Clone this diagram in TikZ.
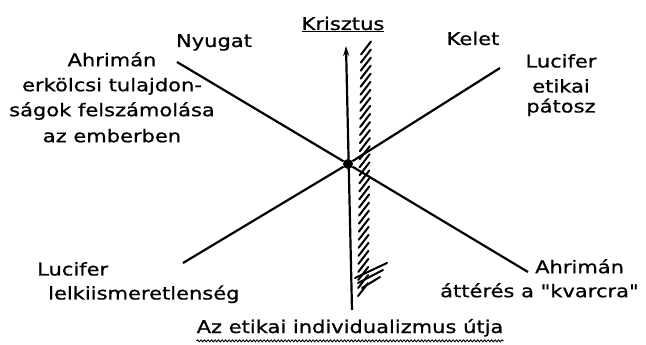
\documentclass[tikz,border=0pt]{standalone}
\usepackage{fontspec}
\setmainfont[FakeStretch=1.2,FakeBold=0.8,Ligatures=TeXOff]{DejaVu Sans}
\usetikzlibrary{arrows.meta,calc,decorations.pathmorphing}

\begin{document}
\begin{tikzpicture}[
  x=1pt,y=-1pt,
  font=\fontsize{17.5}{24}\selectfont,
  >={Stealth[length=10pt,width=6pt]},
  lbl/.style={inner sep=0pt,anchor=base},
  block/.style={inner sep=0pt,anchor=north,align=center},
  axis/.style={line width=2.2pt},
  hatch/.style={line width=2pt,line cap=round},
  wavy/.style={decorate,decoration={snake,amplitude=1pt,segment length=3.5pt},line width=0.9pt},
]
\useasboundingbox (0,0) rectangle (646,345);

% end points of the two crossing lines and of the arrow
\coordinate (ahrFent) at (177,62);
\coordinate (ahrLent) at (528,272);
\coordinate (lucLent) at (183,263);
\coordinate (lucFent) at (500,68);
\coordinate (utAlul) at (352,310);
\coordinate (utFelul) at (346,46);
\coordinate (savFent) at (366,48);
\coordinate (savLent) at (363,292);

\node[circle,fill,inner sep=0pt,minimum size=10pt] (kozep) at (348,164) {};

\draw[axis] (ahrFent) -- (kozep) -- (ahrLent);
\draw[axis] (lucLent) -- (kozep) -- (lucFent);
\draw[axis,->] (utAlul) -- (utFelul);

% hatched strip
\foreach \t in {0,0.033,...,1.0}
  \draw[hatch] ($(savFent)!\t!(savLent)+(-5,6.5)$) -- ($(savFent)!\t!(savLent)+(5,-6.5)$);
\draw[hatch] ($(savLent)+(-8,-14)$) -- ($(savLent)+(24,-29)$);
\draw[hatch] ($(savLent)+(-5,-9)$) -- ($(savLent)+(20,-22)$);
\draw[hatch] ($(savLent)+(-1,-4)$) -- ($(savLent)+(17,-15)$);

% labels
\node[lbl] (krisztus) at (343,30) {\underline{Krisztus}};
\node[lbl] (nyugat) at (214,47) {Nyugat};
\node[lbl] (kelet) at (473,45) {Kelet};
\node[block] (ahrEtika) at (112,52) {Ahrimán\\[1pt]erkölcsi tulajdon-\\[1pt]ságok felszámolása\\[2pt]az emberben};
\node[block] (lucEtika) at (561,54) {Lucifer\\[1pt]etikai\\[-4pt]pátosz};
\node[block,anchor=north west,align=left] (lucLelk) at (37,262) {Lucifer\\\hspace*{11pt}lelkiismeretlenség};
\node[block,anchor=north west,align=left] (ahrKvarc) at (440,259) {\hspace*{95pt}Ahrimán\\áttérés a "kvarcra"};
\node[lbl] (utja) at (350,333) {Az etikai individualizmus útja};
\draw[wavy] ($(utja.south west)+(0,4)$) -- ($(utja.south east)+(0,4)$);

\end{tikzpicture}
\end{document}
